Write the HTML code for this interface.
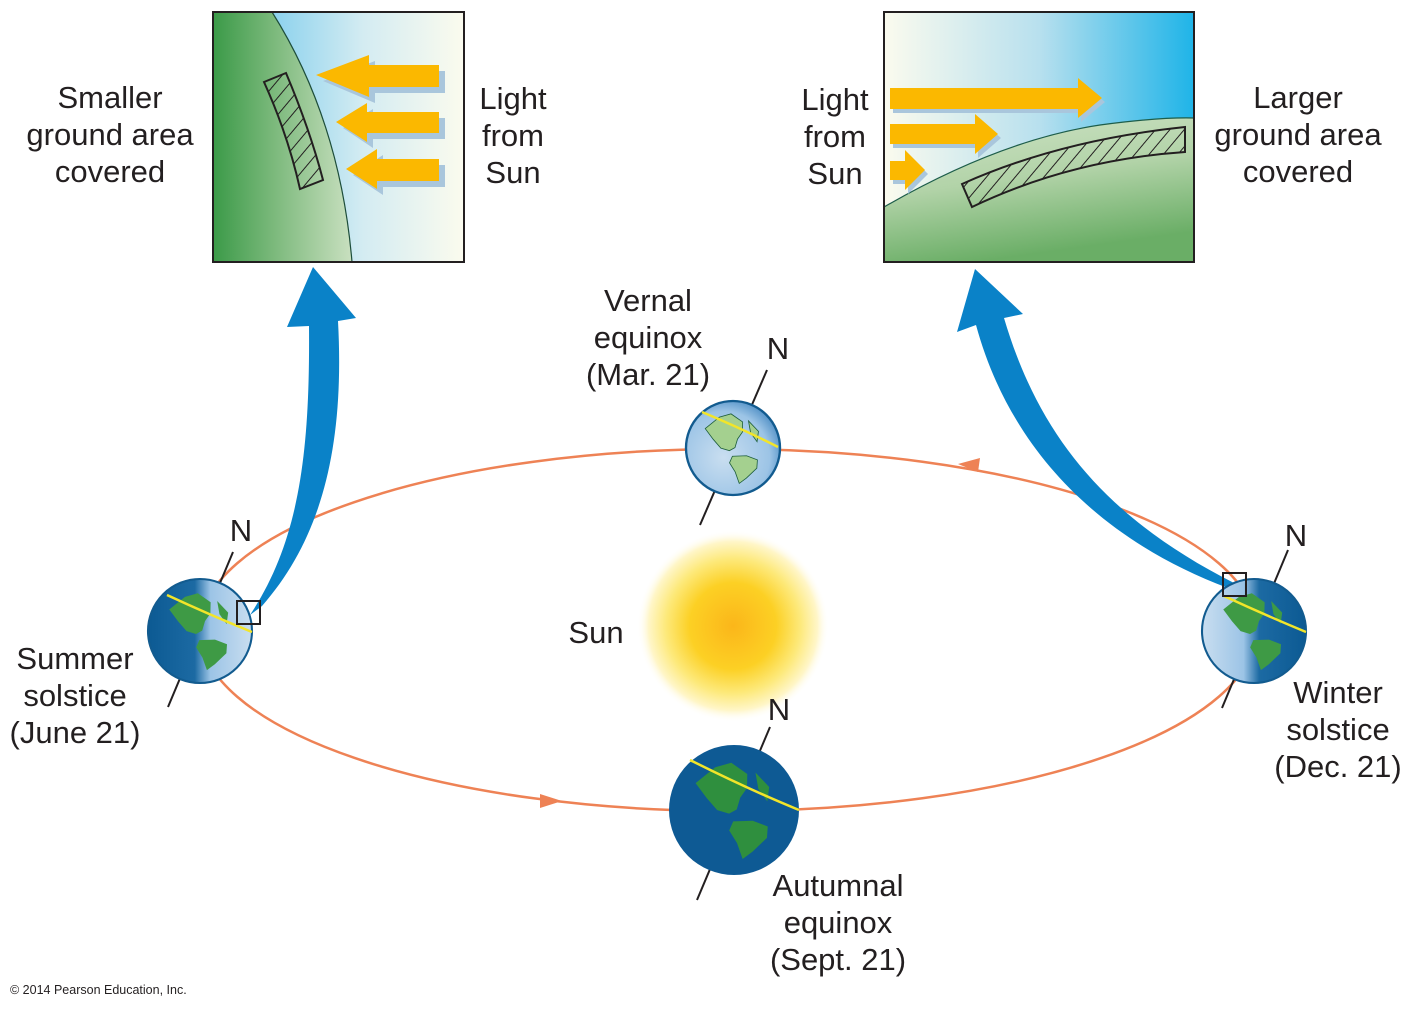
<!DOCTYPE html>
<html><head><meta charset="utf-8"><style>
html,body{margin:0;padding:0;background:#fff;}
svg{display:block;}
text{font-family:"Liberation Sans",Arial,sans-serif;fill:#231f20;}
.t{font-size:31px;text-anchor:middle;}
</style></head><body>
<svg width="1411" height="1010" viewBox="0 0 1411 1010" xmlns="http://www.w3.org/2000/svg">
<defs>
<linearGradient id="skyL" x1="0" y1="0" x2="1" y2="0">
<stop offset="0" stop-color="#5cc0ea"/><stop offset="0.6" stop-color="#d4ecf2"/><stop offset="1" stop-color="#fbfbee"/></linearGradient>
<linearGradient id="grL" x1="0" y1="0" x2="1" y2="0">
<stop offset="0" stop-color="#3b9a48"/><stop offset="0.45" stop-color="#7dba7d"/><stop offset="1" stop-color="#c9e0c0"/></linearGradient>
<linearGradient id="skyR" x1="0" y1="0" x2="1" y2="0">
<stop offset="0" stop-color="#fbfbee"/><stop offset="0.5" stop-color="#b8e0ee"/><stop offset="1" stop-color="#1fb4e8"/></linearGradient>
<linearGradient id="grR" x1="0" y1="0" x2="0.3" y2="1">
<stop offset="0" stop-color="#cfe3c6"/><stop offset="0.5" stop-color="#b2d3a8"/><stop offset="1" stop-color="#6aae66"/></linearGradient>
<radialGradient id="sun" cx="0.5" cy="0.5" r="0.5">
<stop offset="0" stop-color="#fbb61a"/><stop offset="0.45" stop-color="#fcd024"/><stop offset="0.7" stop-color="#fde97a"/><stop offset="0.88" stop-color="#fff6c8"/><stop offset="1" stop-color="#ffffff" stop-opacity="0"/></radialGradient>
<linearGradient id="litR" x1="0" y1="0" x2="1" y2="0">
<stop offset="0" stop-color="#0c5a93"/><stop offset="0.45" stop-color="#1c6aa3"/><stop offset="0.6" stop-color="#9cc4e6"/><stop offset="1" stop-color="#c9def0"/></linearGradient>
<linearGradient id="litL" x1="1" y1="0" x2="0" y2="0">
<stop offset="0" stop-color="#0c5a93"/><stop offset="0.45" stop-color="#1c6aa3"/><stop offset="0.6" stop-color="#9cc4e6"/><stop offset="1" stop-color="#c9def0"/></linearGradient>
<radialGradient id="litV" cx="0.4" cy="0.6" r="0.7">
<stop offset="0" stop-color="#c9def0"/><stop offset="0.7" stop-color="#9cc4e6"/><stop offset="1" stop-color="#3a80bc"/></radialGradient>
<pattern id="hatch" width="11" height="11" patternUnits="userSpaceOnUse" patternTransform="rotate(40)">
<line x1="0" y1="0" x2="0" y2="11" stroke="#231f20" stroke-width="2"/></pattern>
<g id="cont">
<path d="M-0.6,-0.6 L-0.2,-0.82 L0.1,-0.85 L0.35,-0.6 L0.3,-0.35 L0.15,-0.2 L0.05,0.0 L-0.1,0.05 L-0.3,-0.05 L-0.45,-0.3 Z"/>
<path d="M0.5,-0.6 L0.7,-0.3 L0.62,-0.05 L0.5,-0.3 Z"/>
<path d="M-0.05,0.2 L0.3,0.25 L0.55,0.4 L0.5,0.6 L0.2,0.8 L0.0,0.9 L-0.05,0.6 L-0.15,0.35 Z"/>
</g>
</defs>

<!-- Left panel -->
<rect x="213" y="12" width="251" height="250" fill="url(#skyL)"/>
<path d="M213,12 L272,12 Q340,120 352,262 L213,262 Z" fill="url(#grL)"/>
<path d="M272,12 Q340,120 352,262" fill="none" stroke="#1d4d3a" stroke-width="1.2"/>
<rect x="213" y="12" width="251" height="250" fill="none" stroke="#231f20" stroke-width="2"/>
<path d="M264,82 L286,73 Q310,130 323,180 L300,189 Q288,135 264,82 Z" fill="url(#hatch)" stroke="#231f20" stroke-width="2"/>
<g fill="#a9c6dc">
<path d="M442,68 L372,68 L372,58 L320,78 L372,100 L372,90 L442,90 Z" transform="translate(3,3)"/>
<path d="M442,115 L370,115 L370,106 L340,125 L370,145 L370,136 L442,136 Z" transform="translate(3,3)"/>
<path d="M442,162 L380,162 L380,152 L350,172 L380,192 L380,184 L442,184 Z" transform="translate(3,3)"/>
</g>
<g fill="#fbb800">
<path d="M439,65 L369,65 L369,55 L316,75 L369,97 L369,87 L439,87 Z"/>
<path d="M439,112 L367,112 L367,103 L336,122 L367,142 L367,133 L439,133 Z"/>
<path d="M439,159 L377,159 L377,149 L346,169 L377,189 L377,181 L439,181 Z"/>
</g>

<!-- Right panel -->
<rect x="884" y="12" width="310" height="250" fill="url(#skyR)"/>
<path d="M884,207 Q1000,140 1100,125 Q1160,117 1194,118 L1194,262 L884,262 Z" fill="url(#grR)"/>
<path d="M884,207 Q1000,140 1100,125 Q1160,117 1194,118" fill="none" stroke="#1d5d4a" stroke-width="1.2"/>
<rect x="884" y="12" width="310" height="250" fill="none" stroke="#231f20" stroke-width="2"/>
<path d="M962,184 Q1060,140 1185,127 L1185,152 Q1070,160 972,207 Z" fill="url(#hatch)" stroke="#231f20" stroke-width="2"/>
<g fill="#a9c6dc" transform="translate(3,4)">
<path d="M890,88 L1078,88 L1078,78 L1102,98 L1078,118 L1078,109 L890,109 Z"/>
<path d="M890,124 L975,124 L975,114 L998,134 L975,154 L975,144 L890,144 Z"/>
<path d="M890,161 L905,161 L905,150 L925,170 L905,190 L905,180 L890,180 Z"/>
</g>
<g fill="#fbb800">
<path d="M890,88 L1078,88 L1078,78 L1102,98 L1078,118 L1078,109 L890,109 Z"/>
<path d="M890,124 L975,124 L975,114 L998,134 L975,154 L975,144 L890,144 Z"/>
<path d="M890,161 L905,161 L905,150 L925,170 L905,190 L905,180 L890,180 Z"/>
</g>

<!-- Orbit -->
<ellipse cx="728" cy="630" rx="528" ry="181" fill="none" stroke="#ee8255" stroke-width="2.5"/>
<path d="M540,794 L562,801 L540,808 Z" fill="#ee8255"/>
<path d="M980,458 L958,464 L978,472 Z" fill="#ee8255"/>

<!-- Sun -->
<circle cx="733" cy="626" r="96" fill="url(#sun)"/>
<text x="596" y="643" class="t">Sun</text>

<!-- Blue arrows -->
<path d="M250,615 C300,540 310,450 309,326 L287,327 L313,267 L356,318 L338,321 C345,450 320,540 262,606 Z" fill="#0a82c8"/>
<path d="M1228,588 C1100,540 1010,450 976,325 L957,332 L975,269 L1023,314 L1004,318 C1040,440 1110,520 1234,583 Z" fill="#0a82c8"/>

<!-- Earth: summer -->
<line x1="233" y1="552" x2="168" y2="707" stroke="#231f20" stroke-width="2"/>
<g transform="translate(200,631) scale(52)">
<circle r="1" fill="url(#litR)"/>
<use href="#cont" fill="#3e9a45" transform="rotate(-10) scale(0.85)"/>
<circle r="1" fill="none" stroke="#125b8f" stroke-width="0.04"/>
</g>
<path d="M167,595 Q210,615 252,632" stroke="#f2e52a" stroke-width="2.5" fill="none"/>
<rect x="237" y="601" width="23" height="23" fill="none" stroke="#231f20" stroke-width="2"/>
<text x="241" y="541" class="t">N</text>

<!-- Earth: winter -->
<line x1="1288" y1="550" x2="1222" y2="708" stroke="#231f20" stroke-width="2"/>
<g transform="translate(1254,631) scale(52)">
<circle r="1" fill="url(#litL)"/>
<use href="#cont" fill="#3e9a45" transform="rotate(-10) scale(0.85)"/>
<circle r="1" fill="none" stroke="#125b8f" stroke-width="0.04"/>
</g>
<path d="M1224,596 Q1265,615 1306,632" stroke="#f2e52a" stroke-width="2.5" fill="none"/>
<rect x="1223" y="573" width="23" height="23" fill="none" stroke="#231f20" stroke-width="2"/>
<text x="1296" y="546" class="t">N</text>

<!-- Earth: vernal -->
<line x1="767" y1="370" x2="700" y2="525" stroke="#231f20" stroke-width="2"/>
<g transform="translate(733,448) scale(47)">
<circle r="1" fill="url(#litV)"/>
<use href="#cont" fill="#a4d08f" stroke="#1d5d3a" stroke-width="0.02" transform="rotate(-10) scale(0.85)"/>
<circle r="1" fill="none" stroke="#125b8f" stroke-width="0.05"/>
</g>
<path d="M702,412 Q745,430 778,447" stroke="#f2e52a" stroke-width="2.5" fill="none"/>
<text x="778" y="359" class="t">N</text>

<!-- Earth: autumnal -->
<line x1="770" y1="727" x2="697" y2="900" stroke="#231f20" stroke-width="2"/>
<g transform="translate(734,810) scale(65)">
<circle r="1" fill="#0e5a94"/>
<use href="#cont" fill="#2f8f3e" transform="rotate(-10) scale(0.85)"/>
</g>
<path d="M690,760 Q750,790 799,810" stroke="#f2e52a" stroke-width="2.5" fill="none"/>
<text x="779" y="720" class="t">N</text>

<!-- Labels -->
<text class="t"><tspan x="110" y="108">Smaller</tspan><tspan x="110" y="145">ground area</tspan><tspan x="110" y="182">covered</tspan></text>
<text class="t"><tspan x="513" y="109">Light</tspan><tspan x="513" y="146">from</tspan><tspan x="513" y="183">Sun</tspan></text>
<text class="t"><tspan x="835" y="110">Light</tspan><tspan x="835" y="147">from</tspan><tspan x="835" y="184">Sun</tspan></text>
<text class="t"><tspan x="1298" y="108">Larger</tspan><tspan x="1298" y="145">ground area</tspan><tspan x="1298" y="182">covered</tspan></text>
<text class="t"><tspan x="648" y="311">Vernal</tspan><tspan x="648" y="348">equinox</tspan><tspan x="648" y="385">(Mar. 21)</tspan></text>
<text class="t"><tspan x="75" y="669">Summer</tspan><tspan x="75" y="706">solstice</tspan><tspan x="75" y="743">(June 21)</tspan></text>
<text class="t"><tspan x="1338" y="703">Winter</tspan><tspan x="1338" y="740">solstice</tspan><tspan x="1338" y="777">(Dec. 21)</tspan></text>
<text class="t"><tspan x="838" y="896">Autumnal</tspan><tspan x="838" y="933">equinox</tspan><tspan x="838" y="970">(Sept. 21)</tspan></text>
<text x="10" y="994" style="font-size:12.5px">© 2014 Pearson Education, Inc.</text>
</svg>
</body></html>
